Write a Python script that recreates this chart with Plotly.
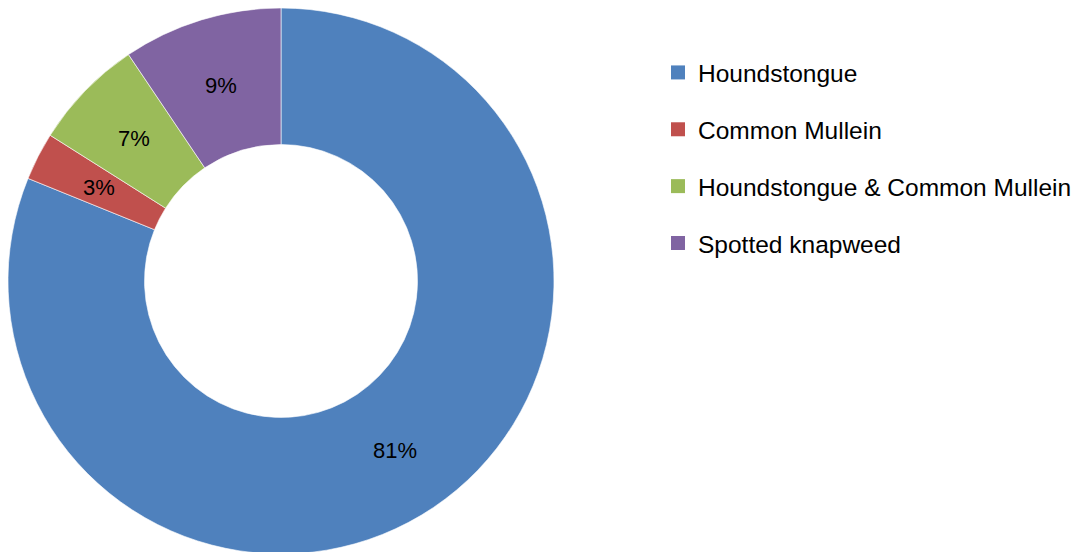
import math
import plotly.graph_objects as go

categories = ["Houndstongue", "Common Mullein", "Houndstongue & Common Mullein", "Spotted knapweed"]
values = [86, 3, 7, 10]
colors = ["#4F81BD", "#C0504D", "#9BBB59", "#8064A2"]

W, H = 1079, 552
OFF = 8  # page body margin in the browser
cx, cy, r = 281 - OFF, 281 - OFF, 273  # donut centre / radius in figure pixels
hole = 0.5

fig = go.Figure()
fig.add_trace(go.Pie(
    labels=categories,
    values=values,
    hole=hole,
    sort=False,
    direction="clockwise",
    rotation=0,
    marker=dict(colors=colors, line=dict(color="white", width=0.6)),
    textinfo="none",
    showlegend=False,
    hoverinfo="label+percent",
    domain=dict(x=[(cx - r) / W, (cx + r) / W], y=[(H - cy - r) / H, 1]),
))

# percentage labels at mid-ring, placed from the data
total = sum(values)
rmid = r * (1 + hole) / 2
cum = 0
for v in values:
    frac = v / total
    ang = 2 * math.pi * (cum + frac / 2)
    cum += frac
    px = cx + rmid * math.sin(ang)
    py = cy - rmid * math.cos(ang)
    fig.add_annotation(
        x=px / W, y=1 - py / H, xref="paper", yref="paper",
        text=f"{round(frac * 100)}%", showarrow=False,
        font=dict(family="Liberation Sans", size=22, color="black"),
        xanchor="center", yanchor="middle",
    )

for cat, col in zip(categories, colors):
    fig.add_trace(go.Scatter(
        x=[None], y=[None], mode="markers", name=cat, legendgroup=cat,
        marker=dict(symbol="square", size=14, color=col),
        showlegend=True,
    ))

fig.update_layout(
    width=W, height=H,
    margin=dict(l=0, r=0, t=0, b=0),
    paper_bgcolor="white", plot_bgcolor="white",
    xaxis=dict(visible=False), yaxis=dict(visible=False),
    legend=dict(
        x=0.6024, y=(H - 73 + 31) / H, xanchor="left", yanchor="top",
        font=dict(family="Liberation Sans", size=24.5, color="black"),
        tracegroupgap=22, bgcolor="rgba(0,0,0,0)",
    ),
)

fig.write_html("out.html")
